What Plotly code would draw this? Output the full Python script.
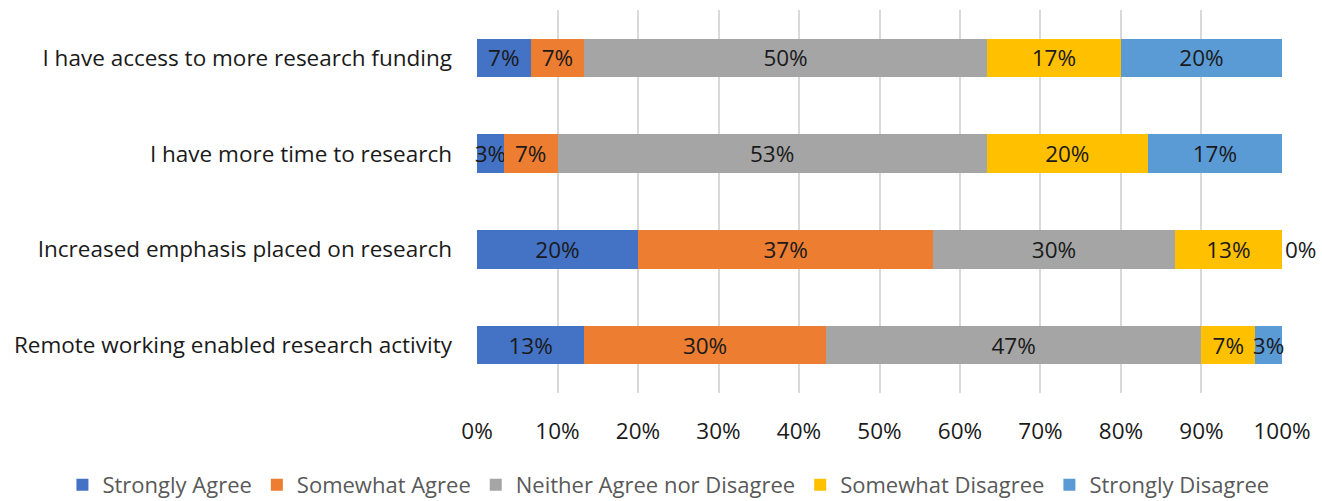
import plotly.graph_objects as go

categories = [
    "I have access to more research funding",
    "I have more time to research",
    "Increased emphasis placed on research",
    "Remote working enabled research activity",
]
series_names = ["Strongly Agree", "Somewhat Agree", "Neither Agree nor Disagree",
                "Somewhat Disagree", "Strongly Disagree"]
strongly_agree = [6.66, 3.33, 20.0, 13.33]
somewhat_agree = [6.67, 6.67, 36.67, 30.0]
neither = [50.0, 53.33, 30.0, 46.67]
somewhat_disagree = [16.67, 20.0, 13.33, 6.67]
strongly_disagree = [20.0, 16.67, 0.0, 3.33]
x_ticks = [0, 10, 20, 30, 40, 50, 60, 70, 80, 90, 100]
x_tick_labels = ["0%", "10%", "20%", "30%", "40%", "50%", "60%", "70%", "80%", "90%", "100%"]

colors = ["#4472C4", "#ED7D31", "#A5A5A5", "#FFC000", "#5B9BD5"]
series = [strongly_agree, somewhat_agree, neither, somewhat_disagree, strongly_disagree]

FONT = "Open Sans"
FS = 22.5
fig = go.Figure()
for name, vals, col in zip(series_names, series, colors):
    pos = ["inside" if v > 0 else "outside" for v in vals]
    fig.add_trace(go.Bar(
        y=categories, x=vals, name=name, orientation="h",
        marker=dict(color=col, line=dict(width=0)),
        text=[f"{round(v):.0f}%" for v in vals],
        textposition=pos, insidetextanchor="middle", textangle=0,
        constraintext="none", cliponaxis=False,
        textfont=dict(family=FONT, size=FS, color="#1a1a1a"),
        hoverinfo="skip",
    ))

fig.update_layout(
    barmode="stack", bargap=0.6,
    width=1322, height=501,
    margin=dict(l=477, r=40, t=10, b=108, autoexpand=False),
    paper_bgcolor="white", plot_bgcolor="white",
    font=dict(family=FONT, size=FS, color="#1a1a1a"),
    legend=dict(orientation="h",
                x=-0.515, xanchor="left", y=-0.24, yanchor="middle",
                font=dict(family=FONT, size=22, color="#595959"),
                traceorder="normal", tracegroupgap=0, itemwidth=30),
)
fig.update_xaxes(range=[0, 100.001], tickvals=x_ticks, ticktext=x_tick_labels,
                 showgrid=True, gridcolor="#D9D9D9", gridwidth=1.5,
                 zeroline=False, showline=False,
                 tickfont=dict(family=FONT, size=FS, color="#1a1a1a"),
                 ticklabelstandoff=22, fixedrange=True)
fig.update_yaxes(autorange="reversed", showgrid=False, showline=False,
                 tickfont=dict(family=FONT, size=FS, color="#1a1a1a"),
                 ticklabelstandoff=24, fixedrange=True)

fig.write_html("out.html", post_script="document.body.style.margin='0';",
               config={"displayModeBar": False})
